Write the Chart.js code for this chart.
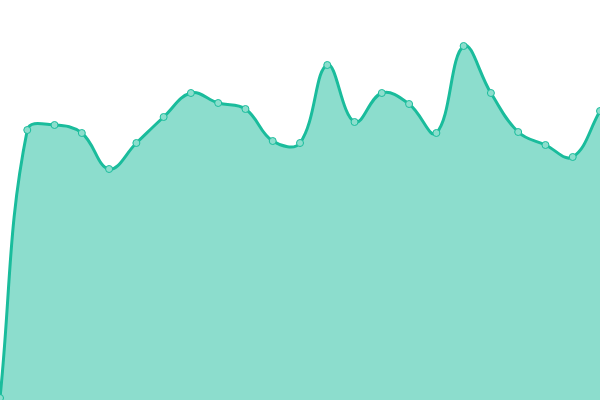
<!DOCTYPE html>
<html>
<head>
<meta charset="utf-8">
<script src="https://cdn.jsdelivr.net/npm/chart.js@4"></script>
<style>
html,body{margin:0;padding:0;background:#fff;}
#wrap{width:600px;height:400px;}
</style>
</head>
<body>
<div id="wrap"><canvas id="c" width="600" height="400"></canvas></div>
<script>
const labels = ['1','2','3','4','5','6','7','8','9','10','11','12','13','14','15','16','17','18','19','20','21','22','23'];
const values = [2,270,275,267,231,257,283,307,297,291,259,257,335,278,307,296,267,354,307,268,255,243,289];
const yMin = 0;
const yMax = 400;

new Chart(document.getElementById('c'), {
  type: 'line',
  data: {
    labels: labels,
    datasets: [{
      data: values,
      borderColor: '#1abc9c',
      backgroundColor: 'rgba(26,188,156,0.5)',
      borderWidth: 3,
      fill: true,
      tension: 0.4,
      pointRadius: 3.5,
      pointBorderWidth: 1,
      pointBackgroundColor: 'rgba(140,222,205,1)',
      pointBorderColor: '#1abc9c'
    }]
  },
  options: {
    responsive: false,
    animation: false,
    layout: { padding: 0, autoPadding: false },
    plugins: { legend: { display: false }, tooltip: { enabled: false } },
    scales: {
      x: { display: false },
      y: { display: false, min: yMin, max: yMax }
    }
  }
});
</script>
</body>
</html>
